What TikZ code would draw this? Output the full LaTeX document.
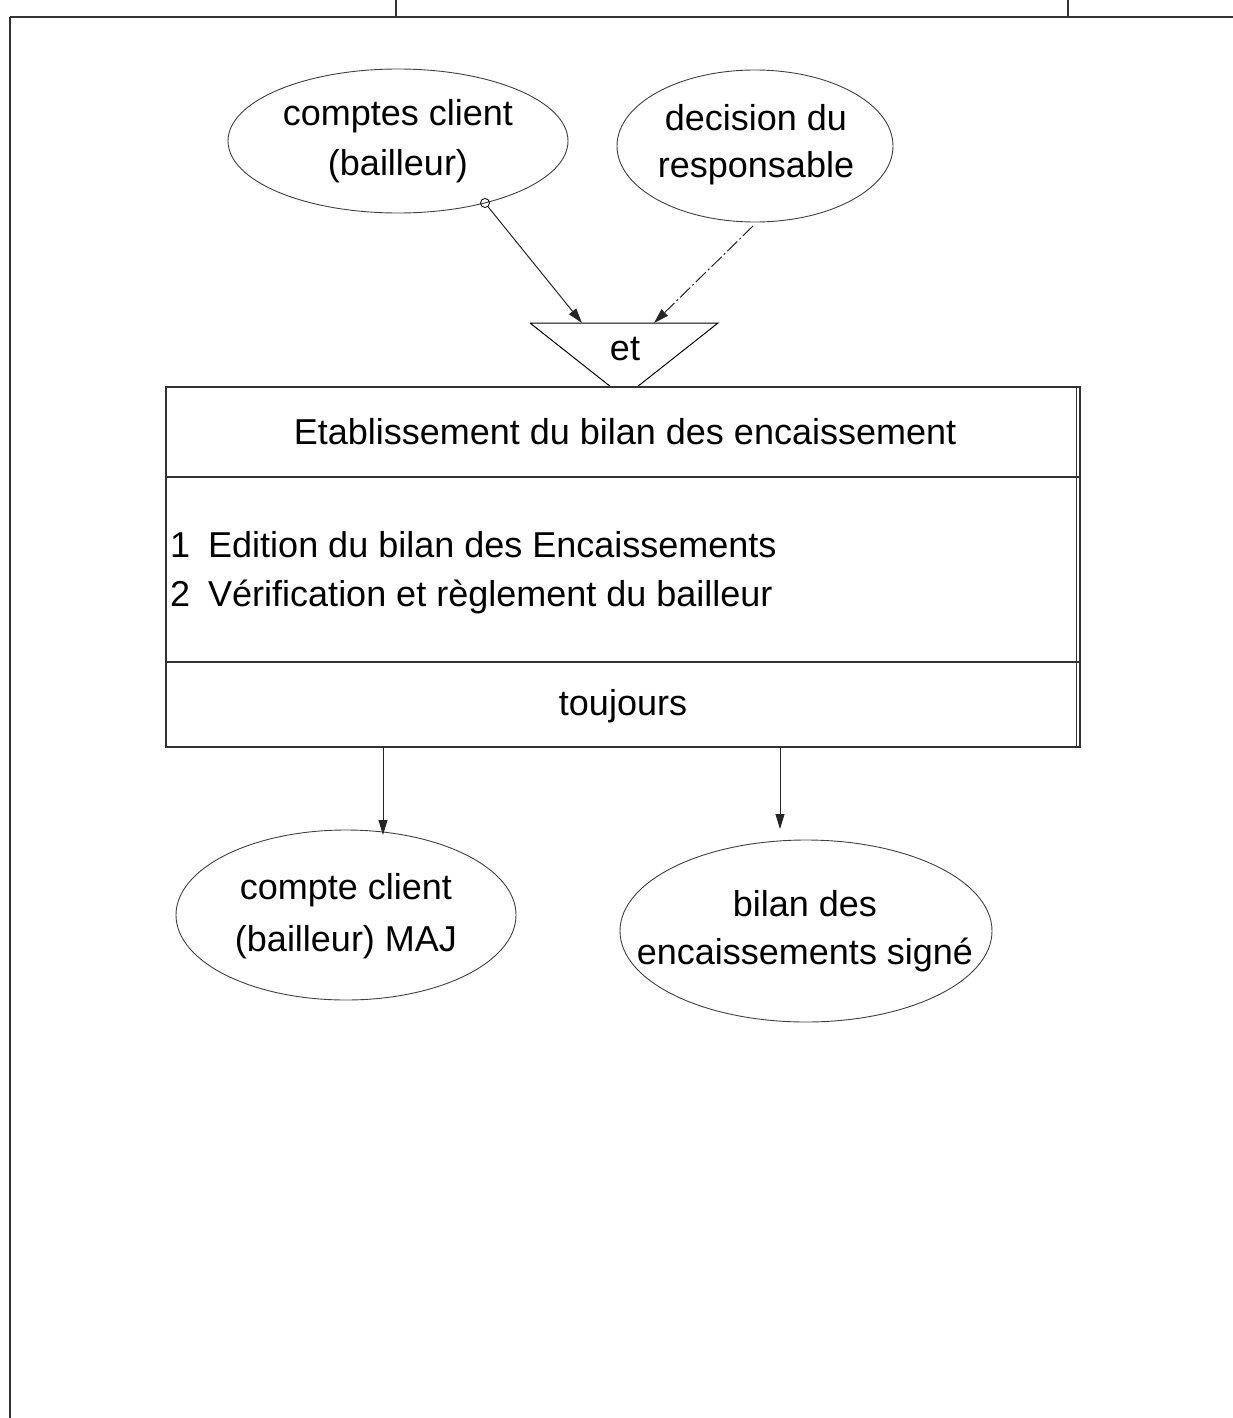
\documentclass[tikz,border=0pt]{standalone}
\usepackage{fontspec}
\setmainfont{Liberation Sans}
\usetikzlibrary{shapes.geometric,arrows.meta,calc}
\begin{document}
\begin{tikzpicture}[x=1pt,y=-1pt,
  txt/.style={font=\fontsize{36}{44}\selectfont, align=center, inner sep=0pt},
  oval/.style={draw=black!75, line width=0.9pt, ellipse, inner sep=0pt},
  frame/.style={draw=black!80, line width=1.3pt},
  flow/.style={draw=black!85, line width=1pt, -{Triangle[length=15pt,width=9pt]}},
]
\useasboundingbox (0,0) rectangle (1233,1418);

% page frame
\draw[frame] (10,17) -- (1233,17);
\draw[frame] (10,17) -- (10,1418);
\draw[frame] (396,0) -- (396,17);
\draw[frame] (1068,0) -- (1068,17);

% input flows
\node[oval, minimum width=340, minimum height=144] (in1) at (398,141) {};
\node[txt] at (398,116) {comptes client};
\node[txt] at (398,166) {(bailleur)};
\node[oval, minimum width=276, minimum height=152] (in2) at (755,146) {};
\node[txt] at (756,118) {decision du};
\node[txt] at (756,168) {responsable};

% synchronisation "et"
\coordinate (tl) at (530,323);
\coordinate (tr) at (718,323);
\coordinate (bl) at (611,387);
\coordinate (br) at (637,387);
\draw[line width=1pt] (tl) -- (tr) -- (br) (tl) -- (bl);
\node[txt] (et) at (625,349) {et};

% connectors into the synchronisation
\node[draw, circle, minimum size=9pt, inner sep=0pt, line width=0.8pt] (src) at (485,203) {};
\draw[flow] (src) -- (582,323);
\draw[flow, dash pattern=on 14pt off 3pt on 2pt off 3pt] (753,226) -- (654,323);

% process box
\node[frame, minimum width=914, minimum height=360, inner sep=0pt] (proc) at (623,567) {};
\draw[frame] ($(proc.north east)+(-4,0)$) -- ($(proc.south east)+(-4,0)$);
\draw[frame] (166,477) -- (1080,477);
\draw[frame] (166,662) -- (1080,662);
\node[txt] (title) at (625,432) {Etablissement du bilan des encaissement};
\node[txt, anchor=west] (op1) at (170,545) {1\hspace{0.5em}Edition du bilan des Encaissements};
\node[txt, anchor=west] (op2) at (170,597) {2\hspace{0.5em}Vérification et règlement du bailleur};
\node[txt] (rule) at (623,706) {toujours};

% output flows
\node[oval, minimum width=340, minimum height=170] (out1) at (346,915) {};
\node[txt] at (346,890) {compte client};
\node[txt] at (346,942) {(bailleur) MAJ};
\node[oval, minimum width=372, minimum height=182] (out2) at (806,931) {};
\node[txt] at (805,904) {bilan des};
\node[txt] at (805,955) {encaissements signé};

\coordinate (o1) at (383,747);
\coordinate (o2) at (780,747);
\draw[flow] (o1) -- (383,835);
\draw[flow] (o2) -- (780,829);
\end{tikzpicture}
\end{document}
